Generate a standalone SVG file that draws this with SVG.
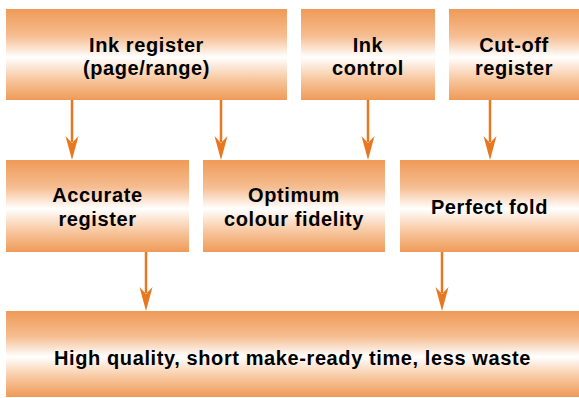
<svg xmlns="http://www.w3.org/2000/svg" width="579" height="398" viewBox="0 0 579 398">
<defs>
<linearGradient id="g" x1="0" y1="0" x2="0" y2="1">
<stop offset="0" stop-color="#EF9A57"/>
<stop offset="0.3" stop-color="#F6BE92"/>
<stop offset="0.53" stop-color="#FFFFFF"/>
<stop offset="0.76" stop-color="#F8CAA4"/>
<stop offset="1" stop-color="#EF9A57"/>
</linearGradient>
</defs>
<style>
.box{fill:url(#g);}
.t{font-family:"Liberation Sans",Arial,Helvetica,sans-serif;font-weight:bold;font-size:20px;letter-spacing:0.6px;fill:#000;text-anchor:middle;}
.shaft{stroke:#E8771F;stroke-width:2.5;fill:none;}
.head{fill:#E8771F;}
</style>
<rect width="579" height="398" fill="#FFFFFF"/>
<g id="n-ink-register"><rect class="box" x="6" y="9" width="281" height="91"/><text class="t" x="146.5" y="51.5">Ink register</text><text class="t" x="146.5" y="75">(page/range)</text></g>
<g id="n-ink-control"><rect class="box" x="301" y="9" width="134" height="91"/><text class="t" x="368" y="51.5">Ink</text><text class="t" x="368" y="75">control</text></g>
<g id="n-cutoff"><rect class="box" x="449" y="9" width="130" height="91"/><text class="t" x="514" y="51.5">Cut-off</text><text class="t" x="514" y="75">register</text></g>
<g id="n-accurate"><rect class="box" x="6" y="160" width="183" height="92"/><text class="t" x="97.5" y="202">Accurate</text><text class="t" x="97.5" y="225.5">register</text></g>
<g id="n-optimum"><rect class="box" x="203" y="160" width="182" height="92"/><text class="t" x="294" y="202">Optimum</text><text class="t" x="294" y="225.5">colour fidelity</text></g>
<g id="n-perfect"><rect class="box" x="400" y="160" width="179" height="92"/><text class="t" x="489.5" y="213.5">Perfect fold</text></g>
<g id="n-high"><rect class="box" x="6" y="311" width="573" height="86"/><text class="t" x="292.5" y="365">High quality, short make-ready time, less waste</text></g>
<g id="connectors">
<line class="shaft" x1="72" y1="100" x2="72" y2="142"/><path class="head" d="M65.5,136 L72,143 L78.5,136 L72,160 Z"/>
<line class="shaft" x1="221" y1="100" x2="221" y2="142"/><path class="head" d="M214.5,136 L221,143 L227.5,136 L221,160 Z"/>
<line class="shaft" x1="368" y1="100" x2="368" y2="142"/><path class="head" d="M361.5,136 L368,143 L374.5,136 L368,160 Z"/>
<line class="shaft" x1="490" y1="100" x2="490" y2="142"/><path class="head" d="M483.5,136 L490,143 L496.5,136 L490,160 Z"/>
<line class="shaft" x1="146" y1="252" x2="146" y2="293"/><path class="head" d="M139.5,287 L146,294 L152.5,287 L146,311 Z"/>
<line class="shaft" x1="442" y1="252" x2="442" y2="293"/><path class="head" d="M435.5,287 L442,294 L448.5,287 L442,311 Z"/>
</g>
</svg>
